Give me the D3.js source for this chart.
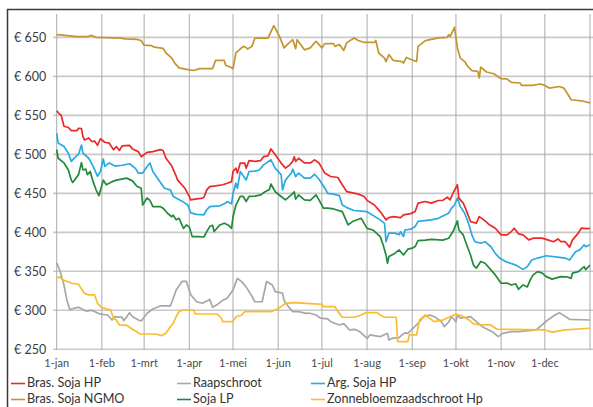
<!DOCTYPE html>
<html><head><meta charset="utf-8">
<script src="https://cdn.jsdelivr.net/npm/d3@7"></script>
<style>body{margin:0;background:#fff}svg{display:block}text{font-family:"Lato","Open Sans",sans-serif}</style>
</head><body><div id="chart"></div>
<script>
// x values are days since 1 Jan 2024
const monthLabels = ["1-jan","1-feb","1-mrt","1-apr","1-mei","1-jun","1-jul","1-aug","1-sep","1-okt","1-nov","1-dec"];
const yTicks = [250,300,350,400,450,500,550,600,650];
const seriesNames = ["Bras. Soja HP","Raapschroot","Arg. Soja HP","Bras. Soja NGMO","Soja LP","Zonnebloemzaadschroot Hp"];

const brasSojaNGMO = [[0,653.5],[9,652],[14,651],[21,651],[24,652.5],[27,650],[44,649],[47,648],[55,647.5],[58,646],[60,640],[65,639.5],[67,637.5],[73,636],[75,630],[79,623.5],[81,617],[84,611],[89,609],[94,607.5],[98,610],[107,610],[109,620.5],[115,620.5],[116,614],[119,612],[121,610],[123,630],[128,638.5],[130,637],[131,635],[134,638.5],[136,649],[145,649],[149,665],[153,651],[156,636.5],[158,640.5],[162,647],[164,635.5],[165,647],[170,634],[174,636.5],[178,645],[182,636.5],[184,642],[190,642],[191,638.5],[194,641],[197,633.3],[199,643],[204,649.3],[207,646],[211,643.5],[218,643.5],[219,646],[221,630],[225,623.5],[226,619],[228,628],[231,620.5],[237,619],[238,617],[240,624.3],[244,621],[247,619],[248,638.5],[253,645.8],[262,649.3],[268,650],[269,653.5],[270,651],[273,663],[275,636.5],[277,623.5],[280,619],[282,613],[285,607.3],[289,606.4],[290,598],[291,612],[295,605.6],[300,603.4],[305,597],[309,596.8],[312,592.3],[318,591.5],[319,588.4],[326,588.4],[332,590.2],[335,588.4],[338,585],[345,587],[348,585],[351,576.4],[353,570],[360,568.7],[366,566]];

const brasSojaHP = [[0,556],[2,551.5],[3,550.5],[5,536],[8,534.5],[10,530.5],[14,530.5],[15,533.5],[17,533],[18,523],[19,518.5],[22,521],[24,516.5],[26,517],[28,511.5],[30,520],[33,515.5],[36,514.5],[39,506],[41,510],[43,505],[45,511],[50,511.5],[52,507],[56,503.5],[58,497],[62,502.5],[66,503.5],[71,506],[73,505],[75,495],[79,485],[82,472],[83,467],[88,456.5],[91,446],[92,441.7],[96,443],[99,443.5],[101,444.6],[103,454.5],[105,458.7],[109,459.5],[114,461],[117,463],[120,465],[121,478],[123,482.3],[124,476],[126,488.8],[129,488.8],[130,482.3],[132,492],[136,491],[140,492],[142,497],[145,498],[147,507],[150,499.4],[154,488.8],[157,482.3],[160,486.6],[162,491],[163,497],[164,491],[166,495],[170,489],[174,489],[177,493],[180,489],[184,476],[188,471.6],[193,470.3],[196,461],[199,452.3],[204,450.3],[207,449],[211,446],[213,441],[218,435],[222,426.6],[226,416],[228,419],[231,420.2],[236,418.8],[238,422.4],[243,424],[246,426.6],[248,437.4],[253,439.5],[257,437.4],[262,440.8],[265,441],[268,445],[270,441.7],[272,450.3],[275,461],[276,443.8],[279,437.4],[281,428.8],[284,413.8],[288,411.7],[290,420.2],[294,414.7],[297,409.6],[301,405.3],[305,396.7],[309,396.7],[312,401],[314,405.3],[317,398],[320,396.7],[324,390.3],[327,392.5],[333,392.5],[337,390.3],[341,388],[344,391.5],[346,388],[349,388],[352,381],[354,390.3],[358,399],[360,405.3],[364,404.7],[366,405]];

const argSojaHP = [[0,527],[1,514.5],[5,510],[8,501.5],[10,491],[13,497],[15,500],[17,512],[18,501.5],[22,495],[25,484.5],[28,472],[30,478],[32,494],[33,484.5],[36,489],[40,485],[45,486],[50,488],[54,482],[56,476],[59,476],[62,484.5],[64,489],[66,478],[70,467],[74,456.5],[78,454.5],[80,446],[86,440],[90,435],[92,425],[96,423],[101,422.5],[103,429],[105,433],[112,434],[116,437.5],[117,439.5],[120,436.5],[121,450],[123,463],[124,456.5],[126,478],[130,467],[132,478],[136,478.5],[139,480],[142,486.5],[147,493],[150,482],[154,474],[155,454.5],[157,467],[161,476],[162,481],[164,471.5],[166,476],[170,469.5],[174,469.5],[177,474.5],[180,468],[184,456.5],[186,450],[190,449],[194,447],[196,435],[200,431],[204,428],[213,426.5],[222,416],[225,411.5],[226,388],[228,399],[232,399],[235,397],[236,401],[238,394.5],[239,403],[243,404],[246,407.5],[248,414],[257,416],[262,418],[265,421],[269,424.5],[271,431],[273,435],[275,444],[277,433],[280,424.5],[283,409.5],[285,396.5],[287,388],[291,386],[294,388],[298,381.5],[301,373],[304,367],[308,362.5],[315,358],[320,352.5],[323,356],[326,364.5],[330,367],[336,370],[345,368],[349,367],[352,364.5],[356,375],[359,377.5],[362,384],[363,381.5],[366,384]];

const sojaLP = [[0,506],[1,495],[5,489],[8,480],[10,467],[11,464],[15,474],[17,489.5],[18,480],[20,481],[21,474],[23,478],[25,465],[27,454.5],[29,447],[32,467],[34,461],[38,465],[41,467],[48,469.5],[52,466],[55,459],[58,456.5],[59,435],[62,444],[64,441],[66,433],[71,433],[73,431],[76,424.5],[79,420],[80,422],[82,416],[84,418],[87,405],[89,409.5],[91,407],[93,394.5],[97,394.5],[101,394],[103,401],[105,407.4],[107,409],[108,401],[112,409.5],[115,411.7],[118,409],[120,405],[121,420],[123,435],[126,446],[128,446],[130,439.5],[132,446],[136,446.5],[140,448],[143,452],[146,455],[147,462],[150,452],[154,446],[157,441.7],[161,448],[163,452],[164,442.6],[166,448],[170,441.7],[174,441],[178,448],[180,441.7],[183,431],[186,431],[190,430],[196,426.6],[200,409.6],[203,413.8],[209,418],[213,405],[217,403],[222,394.5],[224,384],[226,371],[227,360.4],[228,369],[232,373],[235,377.5],[238,371],[241,378.4],[244,379.7],[246,381.7],[248,389.4],[253,390],[257,391],[265,390],[269,392.5],[272,401],[275,414.7],[276,403],[279,396.7],[281,386],[284,371],[286,358],[288,354],[291,362.5],[294,360.4],[298,351.8],[301,345.4],[305,334.7],[309,335],[312,332.5],[315,334],[317,327],[320,332.5],[323,330],[325,339],[327,345.4],[330,349.6],[333,348],[336,343.2],[340,340],[346,343.2],[350,343],[353,341],[354,347.6],[358,349.6],[362,356],[363,352],[366,358]];

const raapschroot = [[0,361],[2,352],[5,332.5],[7,313],[9,301],[15,304],[20,299],[24,300],[30,295],[35,294],[38,287.5],[40,292],[45,291],[46,286.7],[47,289],[50,297],[52,292],[56,287.6],[58,286.3],[62,296],[66,301.7],[71,305.6],[78,305.6],[80,315.5],[82,326],[86,337],[89,337],[92,320],[96,311],[100,309],[105,314],[107,304],[110,307],[114,313],[117,315.5],[121,326],[124,341],[127,336.8],[130,330],[134,318],[136,311],[141,311],[144,337],[148,332.5],[150,324],[155,322],[156,313],[159,304.7],[162,298.3],[166,298.3],[171,296],[173,296.5],[178,294],[181,290],[186,289],[188,285.4],[194,281.2],[197,283],[201,274.8],[205,275.5],[208,272.6],[213,264],[215,268.4],[222,266.2],[227,270.5],[228,262],[230,264],[235,265],[237,268.4],[239,271],[241,270.5],[244,276],[248,283.4],[252,291.8],[256,294],[260,291],[264,285.4],[266,279],[269,285],[271,291.8],[274,285.4],[275,294],[277,290],[281,291],[284,292],[288,285.4],[292,279],[299,272.6],[303,266.2],[306,270.5],[312,272.6],[317,272.6],[329,275],[333,281.2],[337,287.6],[342,294],[345,297],[352,288.5],[366,287.6]];

const zonnebloem = [[0,341],[2,343],[4,339],[9,336],[10,334.7],[15,333.4],[16,330.4],[19,322],[22,319.7],[26,319.7],[28,309],[31,303.4],[37,300.4],[39,290],[41,287.6],[43,281.2],[48,280.8],[52,275.7],[55,272.6],[57,269.6],[68,269.6],[72,267.5],[75,270.5],[78,279],[80,283.4],[82,291.8],[84,298.3],[86,300.4],[94,300.4],[95,295.3],[110,295.3],[113,289.8],[114,285.4],[121,285.4],[123,291.8],[127,294],[129,298.3],[147,298.3],[150,300.4],[154,304.7],[157,309],[163,309.8],[177,308.2],[182,307.8],[183,304.7],[191,304.7],[193,298.3],[196,291.1],[204,291.1],[209,294],[212,297],[220,297],[222,294],[225,291.1],[233,291.1],[234,259.8],[241,259.8],[242,268.4],[247,268.4],[249,287.6],[253,294],[259,285.4],[265,287.6],[270,291.8],[274,295],[278,293],[283,287.6],[286,282.5],[291,281.2],[298,281.2],[302,275.7],[335,274.8],[340,272],[349,275],[366,277]];

const W = 593, H = 407;
const svg = d3.select("#chart").append("svg").attr("width", W).attr("height", H);
const start = new Date(2024, 0, 1);
const toDate = d => d3.timeDay.offset(start, d);
const x = d3.scaleTime().domain([start, new Date(2025, 0, 1)]).range([56.7, 590]);
const y = d3.scaleLinear().domain([250, 680]).range([349.3, 14]);

// frame
svg.append("line").attr("x1", 7).attr("x2", W).attr("y1", 9.5).attr("y2", 9.5).attr("stroke", "#3a3a3a").attr("stroke-width", 1.5);
svg.append("line").attr("x1", 7.5).attr("x2", 7.5).attr("y1", 9).attr("y2", H).attr("stroke", "#3a3a3a").attr("stroke-width", 1.5);

// horizontal grid
svg.append("g").selectAll("line").data(yTicks).join("line")
  .attr("x1", 53).attr("x2", W).attr("y1", d => y(d)).attr("y2", d => y(d))
  .attr("stroke", "#c9c9c9").attr("stroke-width", 1.6);

// vertical grid
const monthTicks = d3.timeMonth.range(start, new Date(2025, 0, 2));
svg.append("g").selectAll("line").data(monthTicks).join("line")
  .attr("x1", d => x(d)).attr("x2", d => x(d)).attr("y1", 14).attr("y2", 350)
  .attr("stroke", "#ababab").attr("stroke-width", 1);

// y labels
svg.append("g").selectAll("text").data(yTicks).join("text")
  .attr("x", 14).attr("y", d => y(d)).attr("dy", "0.35em")
  .attr("font-size", 12.5).attr("fill", "#3c3c3c").text(d => "€ " + d);

// x labels
svg.append("g").selectAll("text").data(monthTicks.slice(0, 12)).join("text")
  .attr("x", d => x(d)).attr("y", 367).attr("text-anchor", "middle")
  .attr("font-size", 11).attr("fill", "#4a4a4a").text((d, i) => monthLabels[i]);

const colors = ["#ea2a2a", "#a7a7a7", "#29abe2", "#c4952e", "#238a3c", "#fbbd2b"];
const dataSets = [brasSojaHP, raapschroot, argSojaHP, brasSojaNGMO, sojaLP, zonnebloem];
const line = d3.line().x(d => x(toDate(d[0]))).y(d => y(d[1]));
const order = [3, 1, 5, 4, 2, 0];
svg.append("g").selectAll("path").data(order).join("path")
  .attr("d", i => line(dataSets[i])).attr("fill", "none")
  .attr("stroke", i => colors[i]).attr("stroke-width", 1.7).attr("stroke-linejoin", "round");

// legend
const legX = [11, 177, 311], legY = [383, 399];
const leg = svg.append("g").selectAll("g").data(seriesNames).join("g")
  .attr("transform", (d, i) => `translate(${legX[i % 3]},${legY[Math.floor(i / 3)]})`);
leg.append("line").attr("x1", 0).attr("x2", 14).attr("y1", 0.5).attr("y2", 0.5)
  .attr("stroke", (d, i) => colors[i]).attr("stroke-width", 1.6);
leg.append("text").attr("x", 16).attr("y", 0).attr("dy", "0.35em")
  .attr("font-size", 12.6).attr("fill", "#333").text(d => d);
</script></body></html>
